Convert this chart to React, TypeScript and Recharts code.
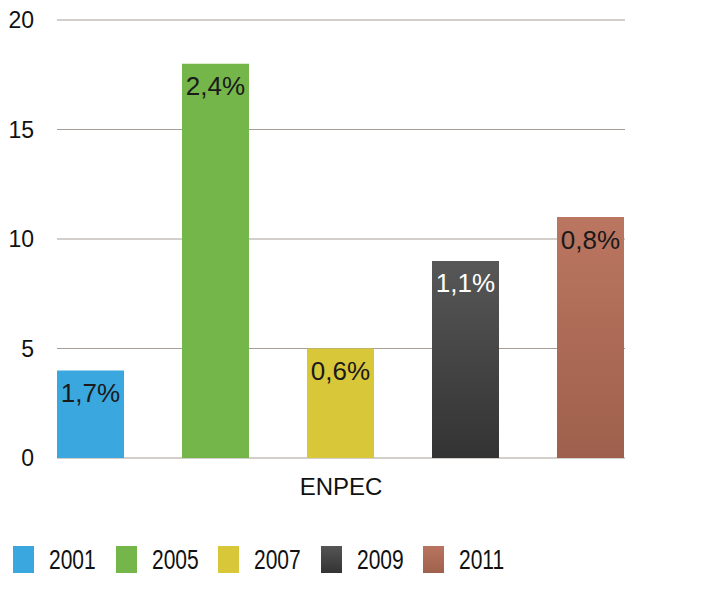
import { Bar, BarChart, CartesianGrid, LabelList, XAxis, YAxis } from "recharts";

const years = ["2001", "2005", "2007", "2009", "2011"];
const values = [4, 18, 5, 9, 11];
const pctLabels = ["1,7%", "2,4%", "0,6%", "1,1%", "0,8%"];
const category = "ENPEC";
const yTicks = [0, 5, 10, 15, 20];

const fills = ["#3ba7df", "#74b64a", "#d9c73a", "url(#g2009)", "url(#g2011)"];
const swatch = [
  "#3ba7df",
  "#74b64a",
  "#d9c73a",
  "linear-gradient(#555555, #333333)",
  "linear-gradient(#b9745f, #9f614d)",
];
const labelColors = ["#1a1a1a", "#1a1a1a", "#1a1a1a", "#ffffff", "#1a1a1a"];

const row: Record<string, string | number> = { name: category };
years.forEach((y, i) => {
  row["y" + y] = values[i];
});
const data = [row];

const font = "'Liberation Sans', Arial, sans-serif";

export default function App() {
  return (
    <div style={{ position: "absolute", left: 0, top: 0, width: 702, height: 606, background: "#fff", fontFamily: font }}>
      <BarChart
        width={702}
        height={520}
        data={data}
        margin={{ top: 20, right: 77, bottom: 0, left: 0 }}
        barCategoryGap={0}
        barGap={58}
      >
        <defs>
          <linearGradient id="g2009" x1="0" y1="0" x2="0" y2="1">
            <stop offset="0%" stopColor="#575757" />
            <stop offset="100%" stopColor="#333333" />
          </linearGradient>
          <linearGradient id="g2011" x1="0" y1="0" x2="0" y2="1">
            <stop offset="0%" stopColor="#bb7661" />
            <stop offset="100%" stopColor="#9e604c" />
          </linearGradient>
        </defs>
        <CartesianGrid vertical={false} stroke="#a89e95" strokeWidth={1} />
        <XAxis
          dataKey="name"
          axisLine={false}
          tickLine={false}
          tickMargin={14}
          height={62}
          tick={{ fontSize: 24, fill: "#111", fontFamily: font }}
        />
        <YAxis
          domain={[0, 20]}
          ticks={yTicks}
          axisLine={false}
          tickLine={false}
          tickMargin={17}
          width={57}
          tick={{ fontSize: 23, fill: "#111", fontFamily: font }}
        />
        {years.map((y, i) => (
          <Bar key={y} dataKey={"y" + y} name={y} fill={fills[i]} isAnimationActive={false}>
            <LabelList
              dataKey={"y" + y}
              position="insideTop"
              offset={13}
              formatter={() => pctLabels[i]}
              style={{ fontSize: 26, fill: labelColors[i], fontFamily: font }}
            />
          </Bar>
        ))}
      </BarChart>
      <div style={{ position: "absolute", top: 546, left: 13, display: "flex" }}>
        {years.map((y, i) => (
          <div key={y} style={{ display: "flex", alignItems: "center", width: 102.5 }}>
            <div style={{ width: 21, height: 27, background: swatch[i], flexShrink: 0 }} />
            <span
              style={{
                marginLeft: 15,
                fontSize: 28,
                color: "#111",
                lineHeight: "27px",
                display: "inline-block",
                transform: "scaleX(0.75)",
                transformOrigin: "left center",
              }}
            >
              {y}
            </span>
          </div>
        ))}
      </div>
    </div>
  );
}
